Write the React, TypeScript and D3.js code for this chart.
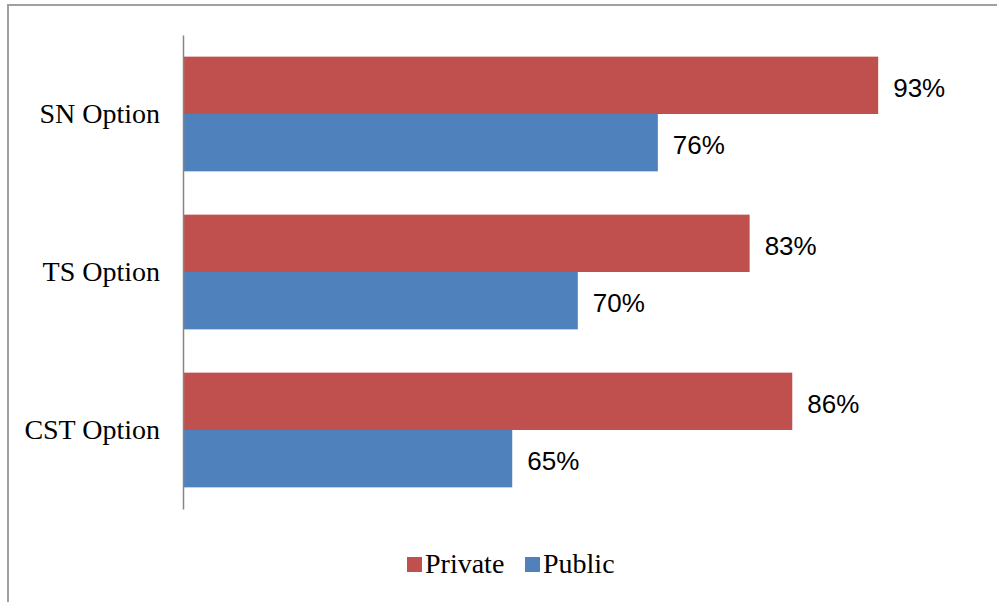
import React, { useEffect, useRef } from "react";
import * as d3 from "d3";

const categories = ["SN Option", "TS Option", "CST Option"];
const seriesNames = ["Private", "Public"];
const privateValues = [93.0, 83.2, 86.45];
const publicValues = [76.2, 70.1, 65.1];
const seriesColors = ["#C0504D", "#4F81BD"];

const W = 997;
const H = 602;

export default function App() {
  const ref = useRef<SVGSVGElement | null>(null);

  useEffect(() => {
    const svg = d3.select(ref.current);
    svg.selectAll("*").remove();

    svg
      .append("rect")
      .attr("x", 8)
      .attr("y", 5)
      .attr("width", W + 20)
      .attr("height", H + 20)
      .attr("fill", "#fff")
      .attr("stroke", "#A0A0A0")
      .attr("stroke-width", 2);

    const x = d3.scaleLinear().domain([40, 100]).range([183, 970]);
    const y = d3
      .scaleBand<string>()
      .domain(categories)
      .range([35, 509])
      .paddingInner(0.274)
      .paddingOuter(0.137);
    const inner = d3
      .scaleBand<string>()
      .domain(seriesNames)
      .range([0, y.bandwidth()]);

    const seriesValues = [privateValues, publicValues];
    const fmt = d3.format(".0f");

    seriesNames.forEach((s, si) => {
      const g = svg.append("g");
      g.selectAll("rect")
        .data(categories)
        .enter()
        .append("rect")
        .attr("x", x(40))
        .attr("y", (c) => (y(c) as number) + (inner(s) as number))
        .attr("width", (c, i) => x(seriesValues[si][i]) - x(40))
        .attr("height", inner.bandwidth())
        .attr("fill", seriesColors[si]);
      g.selectAll("text")
        .data(categories)
        .enter()
        .append("text")
        .attr("x", (c, i) => x(seriesValues[si][i]) + 15)
        .attr(
          "y",
          (c) => (y(c) as number) + (inner(s) as number) + inner.bandwidth() / 2
        )
        .attr("dy", "0.45em")
        .attr("font-family", "'Liberation Sans', Arial, sans-serif")
        .attr("font-size", 26)
        .attr("fill", "#000")
        .text((c, i) => fmt(seriesValues[si][i]) + "%");
    });

    const axis = d3.axisLeft(y).tickSize(0).tickSizeOuter(0).tickPadding(23);
    const ag = svg.append("g").attr("transform", `translate(${x(40)},0)`).call(axis);
    ag.select(".domain").attr("stroke", "#868686").attr("stroke-width", 1.5);
    ag.selectAll(".tick text")
      .attr("font-family", "'Liberation Serif', 'Times New Roman', serif")
      .attr("font-size", 28)
      .attr("fill", "#000")
      .attr("dy", "0.33em");

    const legendX = [407, 525];
    const lg = svg.append("g");
    seriesNames.forEach((s, si) => {
      lg.append("rect")
        .attr("x", legendX[si])
        .attr("y", 557)
        .attr("width", 15)
        .attr("height", 15)
        .attr("fill", seriesColors[si]);
      lg.append("text")
        .attr("x", legendX[si] + 18)
        .attr("y", 573)
        .attr("font-family", "'Liberation Serif', 'Times New Roman', serif")
        .attr("font-size", 28)
        .attr("fill", "#000")
        .text(s);
    });
  }, []);

  return (
    <svg
      ref={ref}
      width={W}
      height={H}
      style={{ position: "absolute", left: 0, top: 0, display: "block" }}
    />
  );
}
